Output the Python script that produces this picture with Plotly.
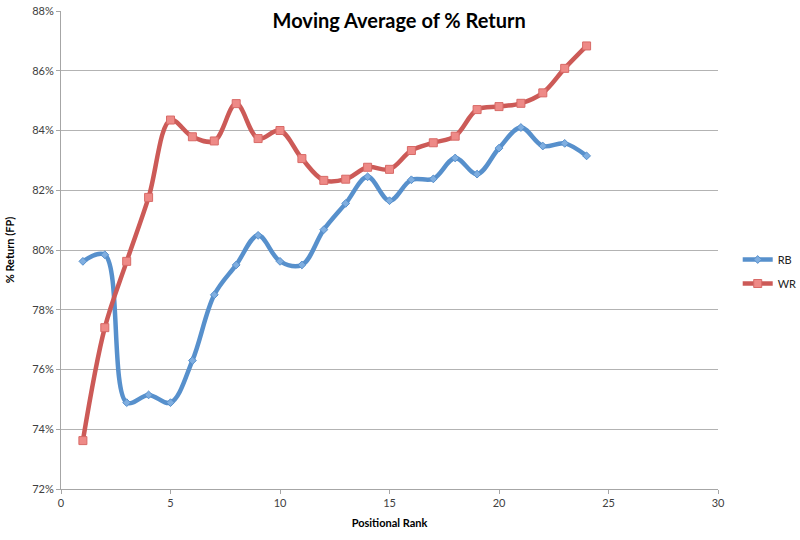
import plotly.graph_objects as go

ranks = list(range(1, 25))
rb_values = [79.62, 79.84, 74.89, 75.15, 74.89, 76.30, 78.50, 79.50, 80.49, 79.62, 79.50, 80.68,
             81.56, 82.45, 81.65, 82.35, 82.38, 83.08, 82.54, 83.41, 84.10, 83.48, 83.57, 83.15]
wr_values = [73.62, 77.40, 79.62, 81.76, 84.35, 83.79, 83.65, 84.90, 83.73, 84.00, 83.06, 82.33,
             82.37, 82.77, 82.70, 83.33, 83.59, 83.81, 84.70, 84.80, 84.91, 85.26, 86.08, 86.83]
y_ticks = [72, 74, 76, 78, 80, 82, 84, 86, 88]
y_tick_labels = [f"{v}%" for v in y_ticks]
x_ticks = [0, 5, 10, 15, 20, 25, 30]

FONT = "Lato, 'Open Sans', sans-serif"

fig = go.Figure()
fig.add_trace(go.Scatter(
    x=ranks, y=rb_values, name="RB", mode="lines+markers", legendgroup="rb",
    line=dict(color="#5790CC", width=4.5, shape="spline", smoothing=1.0),
    marker=dict(symbol="diamond", size=6, color="#7FAEE0", line=dict(color="#5790CC", width=1)),
))
fig.add_trace(go.Scatter(
    x=ranks, y=wr_values, name="WR", mode="lines+markers", legendgroup="wr",
    line=dict(color="#CC5A57", width=4.5, shape="spline", smoothing=1.0),
    marker=dict(symbol="square", size=8, color="#EE8A87", line=dict(color="#D86A67", width=1)),
))

fig.update_layout(
    width=800, height=540,
    margin=dict(l=61, r=82, t=11, b=51, autoexpand=False),
    paper_bgcolor="white", plot_bgcolor="white",
    font=dict(family=FONT, size=11, color="#404040"),
    title=dict(text="<b>Moving Average of % Return</b>", x=0.499, xanchor="center",
               xref="container", yref="container",
               y=0.961, yanchor="middle", font=dict(family=FONT, size=20, color="black")),
    legend=dict(x=1.03, y=0.455, xanchor="left", yanchor="middle", bgcolor="rgba(0,0,0,0)",
                font=dict(family=FONT, size=11, color="#222222"), itemwidth=30, tracegroupgap=5),
    showlegend=True,
)
fig.update_xaxes(
    range=[0, 30], tickvals=x_ticks, showgrid=False, zeroline=False, automargin=False,
    showline=True, linecolor="#A6A6A6", linewidth=1,
    ticks="outside", ticklen=4, tickcolor="#A6A6A6",
    tickfont=dict(family=FONT, size=11, color="#404040"),
    title=dict(text="<b>Positional Rank</b>", font=dict(family=FONT, size=11, color="black"), standoff=11),
)
fig.update_yaxes(
    range=[72, 88], tickvals=y_ticks, ticktext=y_tick_labels, showgrid=True,
    gridcolor="#B3B3B3", gridwidth=1, zeroline=False, automargin=False,
    showline=True, linecolor="#A6A6A6", linewidth=1,
    ticks="outside", ticklen=4, tickcolor="#A6A6A6",
    tickfont=dict(family=FONT, size=11, color="#404040"),
    title=dict(text="<b>% Return (FP)</b>", font=dict(family=FONT, size=11, color="black")),
)

fig.write_html("out.html", config={"displayModeBar": False},
               post_script="document.body.style.margin='0';document.body.style.overflow='hidden';")
